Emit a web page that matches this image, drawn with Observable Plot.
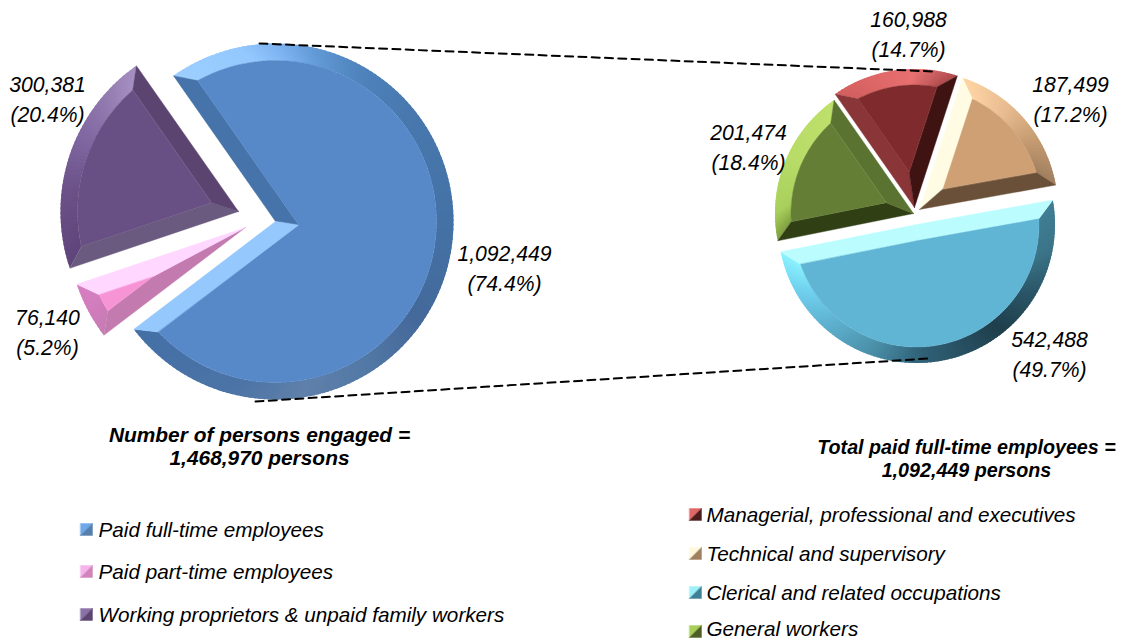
<!DOCTYPE html>
<html>
<head>
<meta charset="utf-8">
<style>html,body{margin:0;padding:0;background:#fff}</style>
<script src="https://cdn.jsdelivr.net/npm/d3@7"></script>
<script src="https://cdn.jsdelivr.net/npm/@observablehq/plot@0.6"></script>
</head>
<body>
<div id="chart"></div>
<script>
// ---- data ----
const engagedNames = ["Paid full-time employees", "Paid part-time employees", "Working proprietors & unpaid family workers"];
const engagedValues = [1092449, 76140, 300381];
const paidNames = ["Managerial, professional and executives", "Technical and supervisory", "Clerical and related occupations", "General workers"];
const paidValues = [160988, 187499, 542488, 201474];
const engagedTitle = "Number of persons engaged =\n1,468,970 persons";
const paidTitle = "Total paid full-time employees =\n1,092,449 persons";

// ---- layout ----
const startAngle = -35 * Math.PI / 180;
const engagedLayout = {radius: 178, bevel: 17, apex: [[275, 221], [245, 227], [238, 211]],
  labels: [[504, 266], [47, 330], [47, 97]]};
const paidLayout = {radius: 138.5, bevel: 16, apex: [[914, 207], [919, 209], [916, 224], [913, 213]],
  labels: [[908, 32], [1070, 97], [1049, 352], [748, 145]]};
const connectors = [[[259, 43], [933, 71]], [[255, 401], [928, 358]]];
const legendEngaged = {x: 80, text: 98, y: [529, 571, 614]};
const legendPaid = {x: 689, text: 706, y: [514, 553, 592, 631]};

// ---- styles: face, start-edge, end-edge, rim stops [deg, colour], legend pair ----
const engagedStyle = [
  {face: "#5789c9", start: "#4673a9", end: "#95c8fd", legend: ["#6ea8ea", "#557fad"],
   rim: [[-35,"#9ccfff"],[-12,"#93c8fe"],[0,"#7db3f0"],[12,"#619ad6"],[28,"#4f83bc"],[50,"#4878ae"],[90,"#4472a6"],[125,"#44699a"],[150,"#5379a6"],[172,"#5f80aa"],[195,"#4c74a6"],[233,"#4470a6"]]},
  {face: "#f794d6", start: "#c27aaf", end: "#ffd7ff", legend: ["#f5b4ea", "#d183ba"],
   rim: [[233,"#c77cb2"],[240,"#d07cbc"],[252,"#d67fc0"]]},
  {face: "#695084", start: "#6b5a7f", end: "#5b4570", legend: ["#8a72a6", "#5b4570"],
   rim: [[252,"#60457c"],[275,"#6a5086"],[295,"#7f66a0"],[310,"#9179ae"],[325,"#a690c2"]]}
];
const paidStyle = [
  {face: "#7f2a2c", start: "#8a3537", end: "#3f1311", legend: ["#df6767", "#4c1d1d"],
   rim: [[-35,"#d26060"],[-15,"#e06868"],[0,"#e87070"],[10,"#c95e60"],[18,"#b04a4c"]]},
  {face: "#cfa074", start: "#fffce3", end: "#6b5039", legend: ["#fff8dc", "#a07f5f"],
   rim: [[18,"#ffd5a5"],[40,"#e8bc90"],[60,"#c49a70"],[80,"#a07f5f"]]},
  {face: "#61b5d4", start: "#bbfdff", end: "#bbfdff", legend: ["#9ef0f8", "#3f8098"],
   rim: [[80,"#3f7e94"],[100,"#3b7488"],[120,"#2a5566"],[140,"#1f3f4c"],[160,"#285062"],[180,"#31647a"],[200,"#4a8fa8"],[225,"#60b4d2"],[242,"#6fd0ee"],[259,"#8cf4ff"]]},
  {face: "#647f35", start: "#313f15", end: "#5b7330", legend: ["#a8ce5a", "#4d5f25"],
   rim: [[258,"#7d9c40"],[270,"#a8cf5c"],[295,"#b8dc68"],[325,"#bce06a"]]}
];

// ---- geometry derived from the values ----
const polar = ([cx, cy], r, a) => [cx + r * Math.sin(a), cy - r * Math.cos(a)];
let polyId = 0;
const rimPolys = [], facetPolys = [];
function addPoly(target, points, color) {
  const id = polyId++;
  points.forEach(([x, y]) => target.push({x, y, id, color}));
}
function buildPie(values, layout, styles) {
  const arcs = d3.pie().sort(null).startAngle(startAngle).endAngle(startAngle + 2 * Math.PI)(values);
  arcs.forEach((arc, i) => {
    const {radius: R, bevel: w} = layout;
    const c = layout.apex[i], st = styles[i];
    const a0 = arc.startAngle, a1 = arc.endAngle;
    const mid = (a0 + a1) / 2, half = (a1 - a0) / 2;
    const inApex = polar(c, w / Math.sin(half), mid);
    const d = Math.asin(w / (R - w));
    const n = Math.ceil((a1 - a0) / (1.5 * Math.PI / 180));
    const ramp = d3.scaleLinear().domain(st.rim.map(s => s[0])).range(st.rim.map(s => s[1])).clamp(true);
    // rim: every piece runs under the next one, so no seams show
    for (let k = 0; k < n; k++) {
      const f0 = k / n, f1 = Math.min(1, (k + 1.6) / n);
      const pts = [];
      const steps = 3;
      for (let j = 0; j <= steps; j++) pts.push(polar(c, R, a0 + (a1 - a0) * (f0 + (f1 - f0) * j / steps)));
      for (let j = steps; j >= 0; j--) pts.push(polar(c, R - w, a0 + d + (a1 - a0 - 2 * d) * (f0 + (f1 - f0) * j / steps)));
      addPoly(rimPolys, pts, ramp((a0 + (a1 - a0) * (k + 0.5) / n) * 180 / Math.PI));
    }
    // radial edges
    addPoly(facetPolys, [c, polar(c, R, a0), polar(c, R - w, a0 + d), inApex], st.start);
    addPoly(facetPolys, [c, polar(c, R, a1), polar(c, R - w, a1 - d), inApex], st.end);
    // face
    const face = [inApex];
    for (let k = 0; k <= n; k++) face.push(polar(c, R - w, a0 + d + (a1 - a0 - 2 * d) * k / n));
    addPoly(facetPolys, face, st.face);
  });
  return values.map((v, i) => ({
    x: layout.labels[i][0], y: layout.labels[i][1],
    text: d3.format(",")(v) + "\n(" + (100 * v / d3.sum(values)).toFixed(1) + "%)"
  }));
}
const labels = [...buildPie(engagedValues, engagedLayout, engagedStyle), ...buildPie(paidValues, paidLayout, paidStyle)];

// legend swatches
const swatchSize = 12;
const legendRows = [];
function addLegend(names, styles, lay) {
  names.forEach((name, i) => {
    const x = lay.x, y = lay.y[i] - swatchSize / 2, s = swatchSize;
    addPoly(facetPolys, [[x, y], [x + s, y], [x, y + s]], styles[i].legend[0]);
    addPoly(facetPolys, [[x + s, y], [x + s, y + s], [x, y + s]], styles[i].legend[1]);
    legendRows.push({x: lay.text, y: Math.min(lay.y[i] + 1, 629), text: name});
  });
}
addLegend(engagedNames, engagedStyle, legendEngaged);
addLegend(paidNames, paidStyle, legendPaid);

const connectorRows = connectors.flatMap((seg, id) => seg.map(([x, y]) => ({x, y, id})));

const font = "Liberation Sans, Arial, sans-serif";
const chart = Plot.plot({
  width: 1136, height: 640, margin: 0,
  x: {domain: [0, 1136], range: [0, 1136], axis: null},
  y: {domain: [0, 640], range: [0, 640], axis: null},
  color: {type: "identity"},
  style: {background: "#fff", fontFamily: font},
  marks: [
    Plot.line(rimPolys, {x: "x", y: "y", z: "id", fill: "color", stroke: "none", curve: "linear-closed"}),
    Plot.line(facetPolys, {x: "x", y: "y", z: "id", fill: "color", stroke: "color", strokeWidth: 0.4, curve: "linear-closed"}),
    Plot.line(connectorRows, {x: "x", y: "y", z: "id", stroke: "#000", strokeWidth: 2, strokeDasharray: "8,5.3"}),
    Plot.text(labels, {x: "x", y: "y", text: "text", fontSize: 21.2, fontStyle: "italic", lineHeight: 1.41, textAnchor: "middle", fill: "#000"}),
    Plot.text(legendRows, {x: "x", y: "y", text: "text", fontSize: 20.7, fontStyle: "italic", textAnchor: "start", fill: "#000"}),
    Plot.text([{x: 259, y: 446, text: engagedTitle}], {x: "x", y: "y", text: "text", fontSize: 20.9, fontStyle: "italic", fontWeight: "bold", lineHeight: 1.1, textAnchor: "middle", fill: "#000"}),
    Plot.text([{x: 966, y: 458, text: paidTitle}], {x: "x", y: "y", text: "text", fontSize: 19.7, fontStyle: "italic", fontWeight: "bold", lineHeight: 1.17, textAnchor: "middle", fill: "#000"})
  ]
});
document.getElementById("chart").appendChild(chart);
</script>
</body>
</html>
